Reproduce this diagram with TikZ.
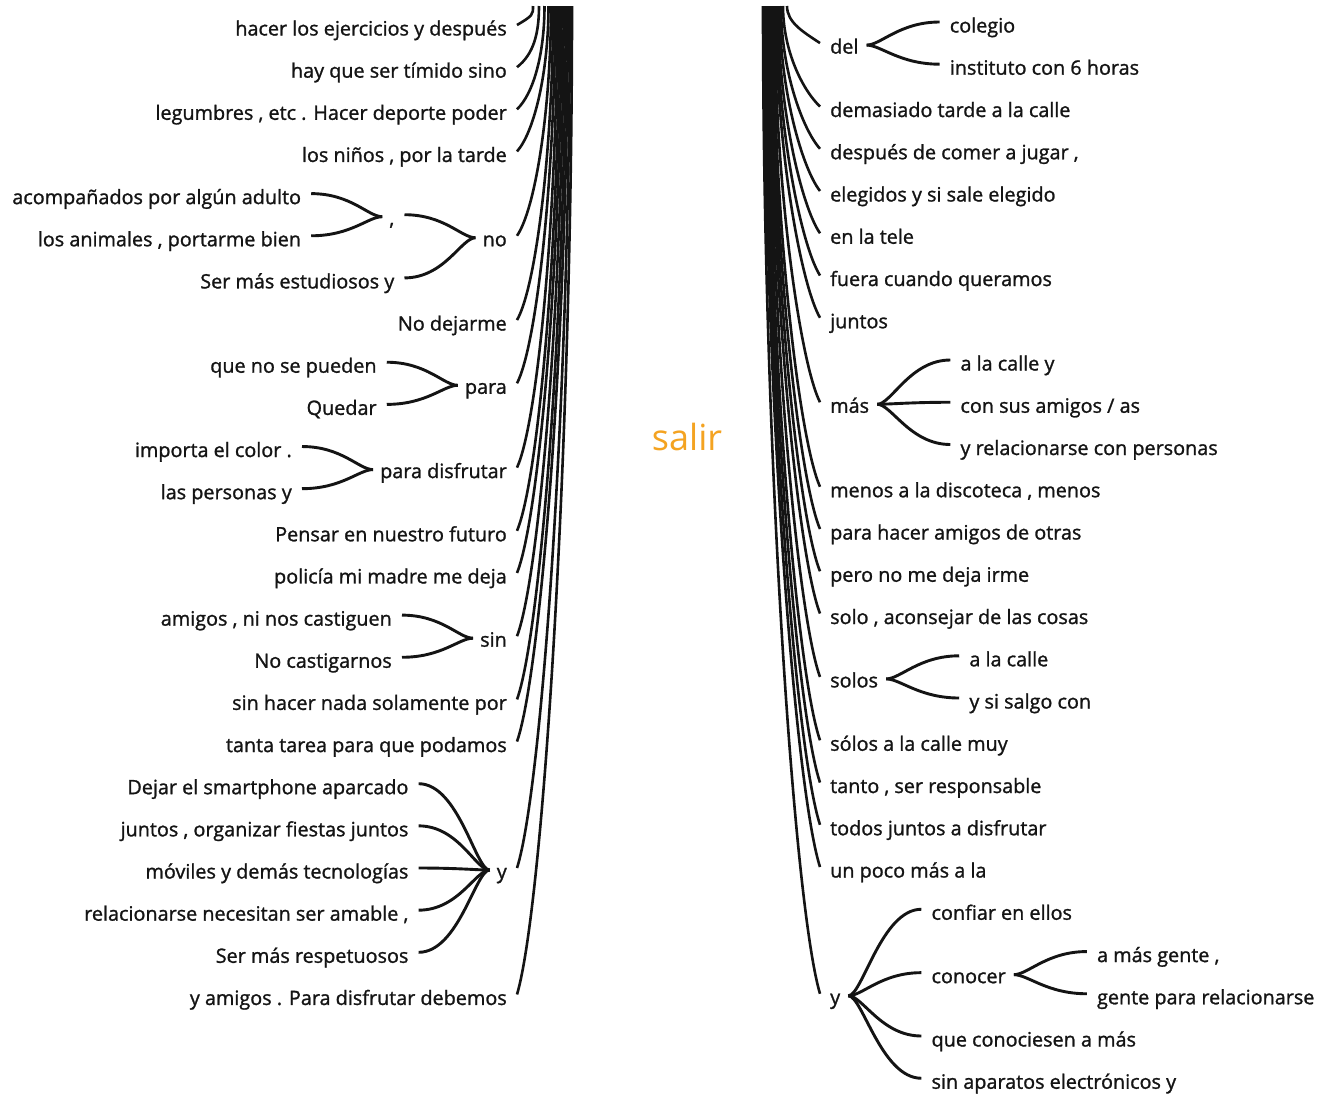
\documentclass[tikz,border=0pt]{standalone}
\usepackage{fontspec}
\setmainfont{Open Sans}[FakeBold=1.2]
\newfontfamily\rootfont{Open Sans}
\usetikzlibrary{calc}
\definecolor{rootc}{RGB}{244,163,33}
\definecolor{ink}{RGB}{20,20,20}
% main branch on the left: #1 top x, #2 node, #3 node y
\newcommand\mkleft[3]{%
  \coordinate (T#2) at (#1,6);
  \draw[trunk] (T#2) .. controls (#1,{6+0.45*(#3-10)})
     and ($(#2.east)+({26+0.01*(#3-10)},{-12-0.08*(#3-10)})$)
     .. ($(#2.east)+(10,-4)$);
}
\newcommand\mkright[3]{%
  \coordinate (T#2) at (#1,6);
  \draw[trunk] (T#2) .. controls (#1,{6+0.45*(#3-10)})
     and ($(#2.west)+({-26-0.01*(#3-10)},{-12-0.08*(#3-10)})$)
     .. ($(#2.west)+(-10,-4)$);
}
% child of a left node: #1 name, #2 parent, #3 dy, #4 text
\newcommand\lchild[4]{%
  \node[lt, anchor=east] (#1) at ($(#2.west)+(-88,#3)$) {#4};
  \draw[conn] ($(#1.east)+(10,-4)$) .. controls +(40,0) and +(-14,0) .. ($(#2.west)+(-7,-2)$);
}
\newcommand\rchild[4]{%
  \node[lt, anchor=west] (#1) at ($(#2.east)+(91,#3)$) {#4};
  \draw[conn] ($(#2.east)+(8,-2)$) .. controls +(14,0) and +(-40,0) .. ($(#1.west)+(-10,-4)$);
}
\begin{document}
\begin{tikzpicture}[x=1pt,y=-1pt,
  lt/.style={font=\fontsize{19.8}{22}\selectfont, inner sep=0pt, text height=17pt, text depth=4pt, text=ink},
  trunk/.style={line width=2.6pt, ink},
  conn/.style={line width=2.9pt, ink}]
\fill[white] (0,0) rectangle (1336,1096);
\useasboundingbox (0,0) rectangle (1336,1096);

\node[font=\rootfont\fontsize{36}{38}\selectfont, text=rootc, inner sep=0pt] (root) at (687,437) {salir};

% ---- left main nodes
\node[lt, anchor=east] (L1) at (507,29) {hacer los ejercicios y después};
\node[lt, anchor=east] (L2) at (507,71.15) {hay que ser tímido sino};
\node[lt, anchor=east] (L3) at (507,113.3) {legumbres , etc . Hacer deporte poder};
\node[lt, anchor=east] (L4) at (507,155.45) {los niños , por la tarde};
\node[lt, anchor=east] (L5) at (507,239.75) {no};
\node[lt, anchor=east] (L6) at (507,324.05) {No dejarme};
\node[lt, anchor=east] (L7) at (507,387.3) {para};
\node[lt, anchor=east] (L8) at (507,471.6) {para disfrutar};
\node[lt, anchor=east] (L9) at (507,534.8) {Pensar en nuestro futuro};
\node[lt, anchor=east] (L10) at (507,576.95) {policía mi madre me deja};
\node[lt, anchor=east] (L11) at (507,640.2) {sin};
\node[lt, anchor=east] (L12) at (507,703.4) {sin hacer nada solamente por};
\node[lt, anchor=east] (L13) at (507,745.55) {tanta tarea para que podamos};
\node[lt, anchor=east] (L14) at (507,872) {y};
\node[lt, anchor=east] (L15) at (507,998.45) {y amigos . Para disfrutar debemos};

% ---- left sub-branches
\lchild{Lc}{L5}{-21.05}{,}
\lchild{L5b}{L5}{42.15}{Ser más estudiosos y}
\lchild{Lca}{Lc}{-21.08}{acompañados por algún adulto}
\lchild{Lcb}{Lc}{21.08}{los animales , portarme bien}
\lchild{L7a}{L7}{-21.08}{que no se pueden}
\lchild{L7b}{L7}{21.08}{Quedar}
\lchild{L8a}{L8}{-21.08}{importa el color .}
\lchild{L8b}{L8}{21.08}{las personas y}
\lchild{L11a}{L11}{-21.08}{amigos , ni nos castiguen}
\lchild{L11b}{L11}{21.08}{No castigarnos}
\lchild{L14a}{L14}{-84.3}{Dejar el smartphone aparcado}
\lchild{L14b}{L14}{-42.15}{juntos , organizar fiestas juntos}
\lchild{L14c}{L14}{0}{móviles y demás tecnologías}
\lchild{L14d}{L14}{42.15}{relacionarse necesitan ser amable ,}
\lchild{L14e}{L14}{84.3}{Ser más respetuosos}

% ---- right main nodes
\node[lt, anchor=west] (R1) at (830,47.1) {del};
\node[lt, anchor=west] (R2) at (830,110.5) {demasiado tarde a la calle};
\node[lt, anchor=west] (R3) at (830,152.75) {después de comer a jugar ,};
\node[lt, anchor=west] (R4) at (830,195) {elegidos y si sale elegido};
\node[lt, anchor=west] (R5) at (830,237.25) {en la tele};
\node[lt, anchor=west] (R6) at (830,279.5) {fuera cuando queramos};
\node[lt, anchor=west] (R7) at (830,321.75) {juntos};
\node[lt, anchor=west] (R8) at (830,406.25) {más};
\node[lt, anchor=west] (R9) at (830,490.75) {menos a la discoteca , menos};
\node[lt, anchor=west] (R10) at (830,533) {para hacer amigos de otras};
\node[lt, anchor=west] (R11) at (830,575.25) {pero no me deja irme};
\node[lt, anchor=west] (R12) at (830,617.5) {solo , aconsejar de las cosas};
\node[lt, anchor=west] (R13) at (830,680.9) {solos};
\node[lt, anchor=west] (R14) at (830,744.25) {sólos a la calle muy};
\node[lt, anchor=west] (R15) at (830,786.5) {tanto , ser responsable};
\node[lt, anchor=west] (R16) at (830,828.75) {todos juntos a disfrutar};
\node[lt, anchor=west] (R17) at (830,871) {un poco más a la};
\node[lt, anchor=west] (R18) at (830,997.75) {y};

% ---- right sub-branches
\rchild{R1a}{R1}{-21.1}{colegio}
\rchild{R1b}{R1}{21.1}{instituto con 6 horas}
\rchild{R8a}{R8}{-42.25}{a la calle y}
\rchild{R8b}{R8}{0}{con sus amigos / as}
\rchild{R8c}{R8}{42.25}{y relacionarse con personas}
\rchild{R13a}{R13}{-21.1}{a la calle}
\rchild{R13b}{R13}{21.1}{y si salgo con}
\rchild{R18a}{R18}{-84.5}{confiar en ellos}
\rchild{R18b}{R18}{-21.1}{conocer}
\rchild{R18c}{R18}{42.25}{que conociesen a más}
\rchild{R18d}{R18}{84.5}{sin aparatos electrónicos y}
\rchild{R18ba}{R18b}{-21.1}{a más gente ,}
\rchild{R18bb}{R18b}{21.1}{gente para relacionarse}

% ---- trunk lines, left
\mkleft{533}{L1}{29}
\mkleft{539}{L2}{71.15}
\mkleft{544.5}{L3}{113.3}
\mkleft{548.5}{L4}{155.45}
\mkleft{551}{L5}{239.75}
\mkleft{553.1}{L6}{324.05}
\mkleft{555.2}{L7}{387.3}
\mkleft{557.3}{L8}{471.6}
\mkleft{559.4}{L9}{534.8}
\mkleft{561.5}{L10}{576.95}
\mkleft{563.6}{L11}{640.2}
\mkleft{565.7}{L12}{703.4}
\mkleft{567.8}{L13}{745.55}
\mkleft{569.9}{L14}{872}
\mkleft{572}{L15}{998.45}

% ---- trunk lines, right
\mkright{787}{R1}{47.1}
\mkright{783}{R2}{110.5}
\mkright{781}{R3}{152.75}
\mkright{779.5}{R4}{195}
\mkright{778}{R5}{237.25}
\mkright{776.8}{R6}{279.5}
\mkright{775.7}{R7}{321.75}
\mkright{774.5}{R8}{406.25}
\mkright{773.4}{R9}{490.75}
\mkright{772.2}{R10}{533}
\mkright{771.1}{R11}{575.25}
\mkright{769.9}{R12}{617.5}
\mkright{768.8}{R13}{680.9}
\mkright{767.6}{R14}{744.25}
\mkright{766.5}{R15}{786.5}
\mkright{765.3}{R16}{828.75}
\mkright{764.2}{R17}{871}
\mkright{763}{R18}{997.75}
\end{tikzpicture}
\end{document}
